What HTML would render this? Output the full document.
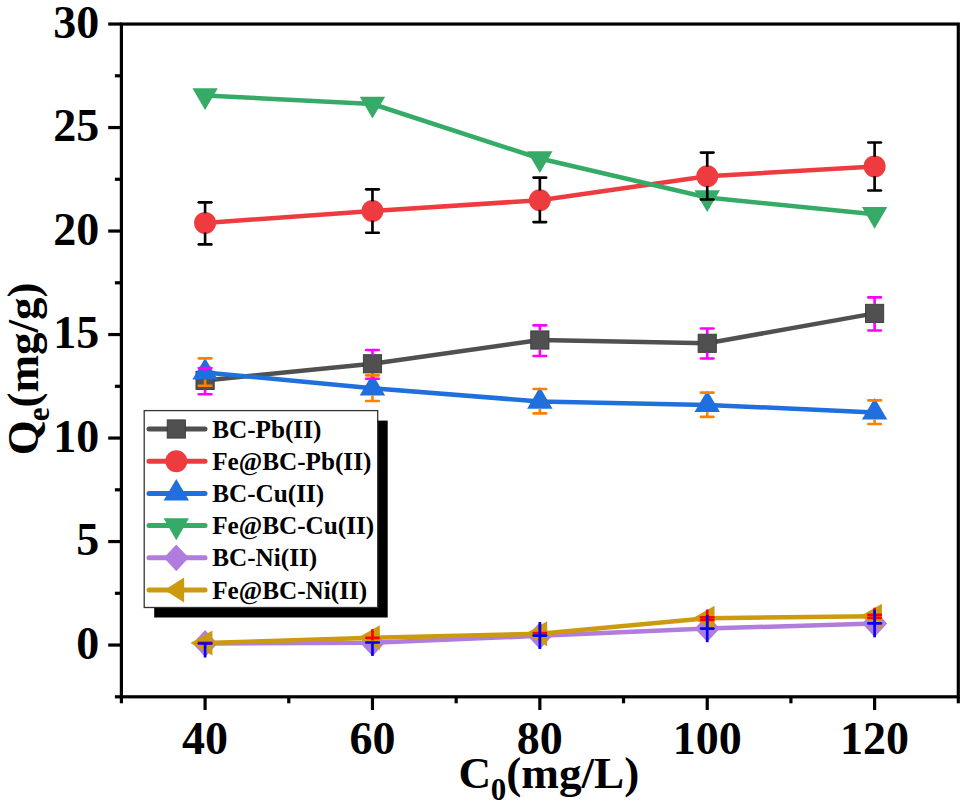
<!DOCTYPE html><html><head><meta charset="utf-8"><style>html,body{margin:0;padding:0;background:#fff;}svg{display:block;}text{font-family:"Liberation Serif", serif;font-weight:bold;fill:#000;}</style></head><body>
<svg width="968" height="809" viewBox="0 0 968 809">
<g stroke="#000" stroke-width="3.2" fill="none" stroke-linecap="butt">
<rect x="121.40" y="24.05" width="836.90" height="672.75"/>
<line x1="108.20" y1="645.05" x2="121.40" y2="645.05"/>
<line x1="108.20" y1="541.55" x2="121.40" y2="541.55"/>
<line x1="108.20" y1="438.05" x2="121.40" y2="438.05"/>
<line x1="108.20" y1="334.55" x2="121.40" y2="334.55"/>
<line x1="108.20" y1="231.05" x2="121.40" y2="231.05"/>
<line x1="108.20" y1="127.55" x2="121.40" y2="127.55"/>
<line x1="108.20" y1="24.05" x2="121.40" y2="24.05"/>
<line x1="114.90" y1="696.80" x2="121.40" y2="696.80"/>
<line x1="114.90" y1="593.30" x2="121.40" y2="593.30"/>
<line x1="114.90" y1="489.80" x2="121.40" y2="489.80"/>
<line x1="114.90" y1="386.30" x2="121.40" y2="386.30"/>
<line x1="114.90" y1="282.80" x2="121.40" y2="282.80"/>
<line x1="114.90" y1="179.30" x2="121.40" y2="179.30"/>
<line x1="114.90" y1="75.80" x2="121.40" y2="75.80"/>
<line x1="205.09" y1="696.80" x2="205.09" y2="710.00"/>
<line x1="372.47" y1="696.80" x2="372.47" y2="710.00"/>
<line x1="539.85" y1="696.80" x2="539.85" y2="710.00"/>
<line x1="707.23" y1="696.80" x2="707.23" y2="710.00"/>
<line x1="874.61" y1="696.80" x2="874.61" y2="710.00"/>
<line x1="121.40" y1="696.80" x2="121.40" y2="703.30"/>
<line x1="288.78" y1="696.80" x2="288.78" y2="703.30"/>
<line x1="456.16" y1="696.80" x2="456.16" y2="703.30"/>
<line x1="623.54" y1="696.80" x2="623.54" y2="703.30"/>
<line x1="790.92" y1="696.80" x2="790.92" y2="703.30"/>
<line x1="958.30" y1="696.80" x2="958.30" y2="703.30"/>
</g>
<text x="99.3" y="658.65" font-size="46" text-anchor="end">0</text>
<text x="99.3" y="555.15" font-size="46" text-anchor="end">5</text>
<text x="99.3" y="451.65" font-size="46" text-anchor="end">10</text>
<text x="99.3" y="348.15" font-size="46" text-anchor="end">15</text>
<text x="99.3" y="244.65" font-size="46" text-anchor="end">20</text>
<text x="99.3" y="141.15" font-size="46" text-anchor="end">25</text>
<text x="99.3" y="37.65" font-size="46" text-anchor="end">30</text>
<text x="205.09" y="753.5" font-size="46" text-anchor="middle">40</text>
<text x="372.47" y="753.5" font-size="46" text-anchor="middle">60</text>
<text x="539.85" y="753.5" font-size="46" text-anchor="middle">80</text>
<text x="707.23" y="753.5" font-size="46" text-anchor="middle">100</text>
<text x="874.61" y="753.5" font-size="46" text-anchor="middle">120</text>
<text x="458.6" y="788" font-size="45.2">C<tspan font-size="31" dx="-0.5" dy="11.5">0</tspan><tspan dy="-11.5">(mg/L)</tspan></text>
<text transform="translate(37.8,455.3) rotate(-90)" font-size="45">Q<tspan font-size="31" dx="-1" dy="11.5">e</tspan><tspan dy="-11.5">(mg/g)</tspan></text>
<polyline points="205.09,380.40 372.47,363.80 539.85,340.00 707.23,343.30 874.61,313.40" fill="none" stroke="#505050" stroke-width="4.5" stroke-linejoin="round"/>
<rect x="195.99" y="371.30" width="18.2" height="18.2" fill="#505050" stroke="#3a3a3a" stroke-width="0.9"/>
<rect x="363.37" y="354.70" width="18.2" height="18.2" fill="#505050" stroke="#3a3a3a" stroke-width="0.9"/>
<rect x="530.75" y="330.90" width="18.2" height="18.2" fill="#505050" stroke="#3a3a3a" stroke-width="0.9"/>
<rect x="698.13" y="334.20" width="18.2" height="18.2" fill="#505050" stroke="#3a3a3a" stroke-width="0.9"/>
<rect x="865.51" y="304.30" width="18.2" height="18.2" fill="#505050" stroke="#3a3a3a" stroke-width="0.9"/>
<polyline points="205.09,222.90 372.47,211.00 539.85,200.20 707.23,176.30 874.61,166.40" fill="none" stroke="#ee3b3f" stroke-width="4.5" stroke-linejoin="round"/>
<circle cx="205.09" cy="222.90" r="11" fill="#ee3b3f"/>
<circle cx="372.47" cy="211.00" r="11" fill="#ee3b3f"/>
<circle cx="539.85" cy="200.20" r="11" fill="#ee3b3f"/>
<circle cx="707.23" cy="176.30" r="11" fill="#ee3b3f"/>
<circle cx="874.61" cy="166.40" r="11" fill="#ee3b3f"/>
<polyline points="205.09,372.40 372.47,388.20 539.85,401.50 707.23,404.90 874.61,412.40" fill="none" stroke="#1f6fdc" stroke-width="4.5" stroke-linejoin="round"/>
<polygon points="192.39,379.60 217.79,379.60 205.09,358.00" fill="#1f6fdc"/>
<polygon points="359.77,395.40 385.17,395.40 372.47,373.80" fill="#1f6fdc"/>
<polygon points="527.15,408.70 552.55,408.70 539.85,387.10" fill="#1f6fdc"/>
<polygon points="694.53,412.10 719.93,412.10 707.23,390.50" fill="#1f6fdc"/>
<polygon points="861.91,419.60 887.31,419.60 874.61,398.00" fill="#1f6fdc"/>
<polyline points="205.09,95.50 372.47,104.00 539.85,158.50 707.23,197.50 874.61,214.30" fill="none" stroke="#35ab67" stroke-width="4.5" stroke-linejoin="round"/>
<polygon points="192.39,88.23 217.79,88.23 205.09,110.03" fill="#35ab67"/>
<polygon points="359.77,96.73 385.17,96.73 372.47,118.53" fill="#35ab67"/>
<polygon points="527.15,151.23 552.55,151.23 539.85,173.03" fill="#35ab67"/>
<polygon points="694.53,190.23 719.93,190.23 707.23,212.03" fill="#35ab67"/>
<polygon points="861.91,207.03 887.31,207.03 874.61,228.83" fill="#35ab67"/>
<polyline points="205.09,643.50 372.47,642.80 539.85,635.80 707.23,628.60 874.61,623.40" fill="none" stroke="#b07ddf" stroke-width="4.5" stroke-linejoin="round"/>
<polygon points="205.09,630.00 217.59,643.50 205.09,657.00 192.59,643.50" fill="#b07ddf"/>
<polygon points="372.47,629.30 384.97,642.80 372.47,656.30 359.97,642.80" fill="#b07ddf"/>
<polygon points="539.85,622.30 552.35,635.80 539.85,649.30 527.35,635.80" fill="#b07ddf"/>
<polygon points="707.23,615.10 719.73,628.60 707.23,642.10 694.73,628.60" fill="#b07ddf"/>
<polygon points="874.61,609.90 887.11,623.40 874.61,636.90 862.11,623.40" fill="#b07ddf"/>
<polyline points="205.09,643.10 372.47,637.70 539.85,633.80 707.23,618.30 874.61,616.20" fill="none" stroke="#cc9a0e" stroke-width="4.5" stroke-linejoin="round"/>
<polygon points="212.42,630.60 212.42,655.60 190.42,643.10" fill="#cc9a0e"/>
<polygon points="379.80,625.20 379.80,650.20 357.80,637.70" fill="#cc9a0e"/>
<polygon points="547.18,621.30 547.18,646.30 525.18,633.80" fill="#cc9a0e"/>
<polygon points="714.56,605.80 714.56,630.80 692.56,618.30" fill="#cc9a0e"/>
<polygon points="881.94,603.70 881.94,628.70 859.94,616.20" fill="#cc9a0e"/>
<line x1="205.09" y1="368.00" x2="205.09" y2="371.15" stroke="#ff00ff" stroke-width="2.65" stroke-linecap="butt"/><line x1="205.09" y1="389.65" x2="205.09" y2="394.20" stroke="#ff00ff" stroke-width="2.65" stroke-linecap="butt"/><line x1="198.81" y1="368.00" x2="211.37" y2="368.00" stroke="#ff00ff" stroke-width="2.65" stroke-linecap="round"/><line x1="198.81" y1="394.20" x2="211.37" y2="394.20" stroke="#ff00ff" stroke-width="2.65" stroke-linecap="round"/>
<line x1="372.47" y1="350.00" x2="372.47" y2="354.55" stroke="#ff00ff" stroke-width="2.65" stroke-linecap="butt"/><line x1="372.47" y1="373.05" x2="372.47" y2="378.70" stroke="#ff00ff" stroke-width="2.65" stroke-linecap="butt"/><line x1="366.19" y1="350.00" x2="378.75" y2="350.00" stroke="#ff00ff" stroke-width="2.65" stroke-linecap="round"/><line x1="366.19" y1="378.70" x2="378.75" y2="378.70" stroke="#ff00ff" stroke-width="2.65" stroke-linecap="round"/>
<line x1="539.85" y1="325.30" x2="539.85" y2="330.75" stroke="#ff00ff" stroke-width="2.65" stroke-linecap="butt"/><line x1="539.85" y1="349.25" x2="539.85" y2="356.00" stroke="#ff00ff" stroke-width="2.65" stroke-linecap="butt"/><line x1="533.58" y1="325.30" x2="546.12" y2="325.30" stroke="#ff00ff" stroke-width="2.65" stroke-linecap="round"/><line x1="533.58" y1="356.00" x2="546.12" y2="356.00" stroke="#ff00ff" stroke-width="2.65" stroke-linecap="round"/>
<line x1="707.23" y1="328.50" x2="707.23" y2="334.05" stroke="#ff00ff" stroke-width="2.65" stroke-linecap="butt"/><line x1="707.23" y1="352.55" x2="707.23" y2="358.50" stroke="#ff00ff" stroke-width="2.65" stroke-linecap="butt"/><line x1="700.95" y1="328.50" x2="713.50" y2="328.50" stroke="#ff00ff" stroke-width="2.65" stroke-linecap="round"/><line x1="700.95" y1="358.50" x2="713.50" y2="358.50" stroke="#ff00ff" stroke-width="2.65" stroke-linecap="round"/>
<line x1="874.61" y1="297.40" x2="874.61" y2="304.15" stroke="#ff00ff" stroke-width="2.65" stroke-linecap="butt"/><line x1="874.61" y1="322.65" x2="874.61" y2="330.50" stroke="#ff00ff" stroke-width="2.65" stroke-linecap="butt"/><line x1="868.34" y1="297.40" x2="880.88" y2="297.40" stroke="#ff00ff" stroke-width="2.65" stroke-linecap="round"/><line x1="868.34" y1="330.50" x2="880.88" y2="330.50" stroke="#ff00ff" stroke-width="2.65" stroke-linecap="round"/>
<line x1="205.09" y1="202.30" x2="205.09" y2="213.30" stroke="#000000" stroke-width="2.65" stroke-linecap="butt"/><line x1="205.09" y1="232.50" x2="205.09" y2="244.40" stroke="#000000" stroke-width="2.65" stroke-linecap="butt"/><line x1="198.81" y1="202.30" x2="211.37" y2="202.30" stroke="#000000" stroke-width="2.65" stroke-linecap="round"/><line x1="198.81" y1="244.40" x2="211.37" y2="244.40" stroke="#000000" stroke-width="2.65" stroke-linecap="round"/>
<line x1="372.47" y1="189.30" x2="372.47" y2="201.40" stroke="#000000" stroke-width="2.65" stroke-linecap="butt"/><line x1="372.47" y1="220.60" x2="372.47" y2="232.70" stroke="#000000" stroke-width="2.65" stroke-linecap="butt"/><line x1="366.19" y1="189.30" x2="378.75" y2="189.30" stroke="#000000" stroke-width="2.65" stroke-linecap="round"/><line x1="366.19" y1="232.70" x2="378.75" y2="232.70" stroke="#000000" stroke-width="2.65" stroke-linecap="round"/>
<line x1="539.85" y1="177.60" x2="539.85" y2="190.60" stroke="#000000" stroke-width="2.65" stroke-linecap="butt"/><line x1="539.85" y1="209.80" x2="539.85" y2="222.10" stroke="#000000" stroke-width="2.65" stroke-linecap="butt"/><line x1="533.58" y1="177.60" x2="546.12" y2="177.60" stroke="#000000" stroke-width="2.65" stroke-linecap="round"/><line x1="533.58" y1="222.10" x2="546.12" y2="222.10" stroke="#000000" stroke-width="2.65" stroke-linecap="round"/>
<line x1="707.23" y1="152.60" x2="707.23" y2="166.70" stroke="#000000" stroke-width="2.65" stroke-linecap="butt"/><line x1="707.23" y1="185.90" x2="707.23" y2="199.50" stroke="#000000" stroke-width="2.65" stroke-linecap="butt"/><line x1="700.95" y1="152.60" x2="713.50" y2="152.60" stroke="#000000" stroke-width="2.65" stroke-linecap="round"/><line x1="700.95" y1="199.50" x2="713.50" y2="199.50" stroke="#000000" stroke-width="2.65" stroke-linecap="round"/>
<line x1="874.61" y1="142.50" x2="874.61" y2="156.80" stroke="#000000" stroke-width="2.65" stroke-linecap="butt"/><line x1="874.61" y1="176.00" x2="874.61" y2="190.50" stroke="#000000" stroke-width="2.65" stroke-linecap="butt"/><line x1="868.34" y1="142.50" x2="880.88" y2="142.50" stroke="#000000" stroke-width="2.65" stroke-linecap="round"/><line x1="868.34" y1="190.50" x2="880.88" y2="190.50" stroke="#000000" stroke-width="2.65" stroke-linecap="round"/>
<line x1="205.09" y1="379.60" x2="205.09" y2="385.70" stroke="#ff7f00" stroke-width="2.65" stroke-linecap="butt"/><line x1="198.81" y1="358.30" x2="211.37" y2="358.30" stroke="#ff7f00" stroke-width="2.65" stroke-linecap="round"/><line x1="198.81" y1="385.70" x2="211.37" y2="385.70" stroke="#ff7f00" stroke-width="2.65" stroke-linecap="round"/>
<line x1="372.47" y1="395.40" x2="372.47" y2="401.00" stroke="#ff7f00" stroke-width="2.65" stroke-linecap="butt"/><line x1="366.19" y1="375.40" x2="378.75" y2="375.40" stroke="#ff7f00" stroke-width="2.65" stroke-linecap="round"/><line x1="366.19" y1="401.00" x2="378.75" y2="401.00" stroke="#ff7f00" stroke-width="2.65" stroke-linecap="round"/>
<line x1="539.85" y1="408.70" x2="539.85" y2="413.40" stroke="#ff7f00" stroke-width="2.65" stroke-linecap="butt"/><line x1="533.58" y1="389.00" x2="546.12" y2="389.00" stroke="#ff7f00" stroke-width="2.65" stroke-linecap="round"/><line x1="533.58" y1="413.40" x2="546.12" y2="413.40" stroke="#ff7f00" stroke-width="2.65" stroke-linecap="round"/>
<line x1="707.23" y1="412.10" x2="707.23" y2="416.80" stroke="#ff7f00" stroke-width="2.65" stroke-linecap="butt"/><line x1="700.95" y1="392.60" x2="713.50" y2="392.60" stroke="#ff7f00" stroke-width="2.65" stroke-linecap="round"/><line x1="700.95" y1="416.80" x2="713.50" y2="416.80" stroke="#ff7f00" stroke-width="2.65" stroke-linecap="round"/>
<line x1="874.61" y1="419.60" x2="874.61" y2="424.00" stroke="#ff7f00" stroke-width="2.65" stroke-linecap="butt"/><line x1="868.34" y1="400.40" x2="880.88" y2="400.40" stroke="#ff7f00" stroke-width="2.65" stroke-linecap="round"/><line x1="868.34" y1="424.00" x2="880.88" y2="424.00" stroke="#ff7f00" stroke-width="2.65" stroke-linecap="round"/>
<line x1="198.89" y1="642.9" x2="211.29" y2="642.9" stroke="#ff0000" stroke-width="2.7" stroke-linecap="round"/>
<line x1="372.47" y1="629.2" x2="372.47" y2="640.5" stroke="#ff0000" stroke-width="2.7" stroke-linecap="butt"/>
<line x1="366.27" y1="637.8" x2="378.67" y2="637.8" stroke="#ff0000" stroke-width="2.7" stroke-linecap="round"/>
<line x1="539.85" y1="624.8" x2="539.85" y2="641.4" stroke="#ff0000" stroke-width="2.7" stroke-linecap="butt"/>
<line x1="533.65" y1="633.1" x2="546.05" y2="633.1" stroke="#ff0000" stroke-width="2.7" stroke-linecap="round"/>
<line x1="707.23" y1="609.5" x2="707.23" y2="627.0" stroke="#ff0000" stroke-width="2.7" stroke-linecap="butt"/>
<line x1="701.03" y1="617.3" x2="713.43" y2="617.3" stroke="#ff0000" stroke-width="2.7" stroke-linecap="round"/>
<line x1="701.03" y1="620.0" x2="713.43" y2="620.0" stroke="#ff0000" stroke-width="2.7" stroke-linecap="round"/>
<line x1="874.61" y1="607.7" x2="874.61" y2="624.5" stroke="#ff0000" stroke-width="2.7" stroke-linecap="butt"/>
<line x1="868.41" y1="614.9" x2="880.81" y2="614.9" stroke="#ff0000" stroke-width="2.7" stroke-linecap="round"/>
<line x1="868.41" y1="617.9" x2="880.81" y2="617.9" stroke="#ff0000" stroke-width="2.7" stroke-linecap="round"/>
<line x1="205.09" y1="643.5" x2="205.09" y2="657.5" stroke="#0000ff" stroke-width="2.7" stroke-linecap="butt"/>
<line x1="198.89" y1="643.5" x2="211.29" y2="643.5" stroke="#0000ff" stroke-width="2.7" stroke-linecap="round"/>
<line x1="372.47" y1="642.5" x2="372.47" y2="655.9" stroke="#0000ff" stroke-width="2.7" stroke-linecap="butt"/>
<line x1="366.27" y1="642.5" x2="378.67" y2="642.5" stroke="#0000ff" stroke-width="2.7" stroke-linecap="round"/>
<line x1="539.85" y1="622.0" x2="539.85" y2="649.0" stroke="#0000ff" stroke-width="2.7" stroke-linecap="butt"/>
<line x1="533.65" y1="635.6" x2="546.05" y2="635.6" stroke="#0000ff" stroke-width="2.7" stroke-linecap="round"/>
<line x1="707.23" y1="615.0" x2="707.23" y2="642.2" stroke="#0000ff" stroke-width="2.7" stroke-linecap="butt"/>
<line x1="701.03" y1="628.6" x2="713.43" y2="628.6" stroke="#0000ff" stroke-width="2.7" stroke-linecap="round"/>
<line x1="874.61" y1="609.8" x2="874.61" y2="637.3" stroke="#0000ff" stroke-width="2.7" stroke-linecap="butt"/>
<line x1="868.41" y1="623.4" x2="880.81" y2="623.4" stroke="#0000ff" stroke-width="2.7" stroke-linecap="round"/>
<rect x="154.2" y="420.6" width="233.5" height="196.9" fill="#000"/>
<rect x="144.2" y="410.6" width="233.5" height="196.9" fill="#fff" stroke="#333" stroke-width="1.3"/>
<line x1="149" y1="429.0" x2="205" y2="429.0" stroke="#505050" stroke-width="5" stroke-linecap="round"/>
<rect x="167.20" y="419.90" width="18.2" height="18.2" fill="#505050" stroke="#3a3a3a" stroke-width="0.9"/>
<text x="212.2" y="437.50" font-size="25.2">BC-Pb(II)</text>
<line x1="149" y1="461.2" x2="205" y2="461.2" stroke="#ee3b3f" stroke-width="5" stroke-linecap="round"/>
<circle cx="176.30" cy="461.20" r="11" fill="#ee3b3f"/>
<text x="212.2" y="469.70" font-size="25.2">Fe@BC-Pb(II)</text>
<line x1="149" y1="493.4" x2="205" y2="493.4" stroke="#1f6fdc" stroke-width="5" stroke-linecap="round"/>
<polygon points="163.60,500.60 189.00,500.60 176.30,479.00" fill="#1f6fdc"/>
<text x="212.2" y="501.90" font-size="25.2">BC-Cu(II)</text>
<line x1="149" y1="525.6" x2="205" y2="525.6" stroke="#35ab67" stroke-width="5" stroke-linecap="round"/>
<polygon points="163.60,518.33 189.00,518.33 176.30,540.13" fill="#35ab67"/>
<text x="212.2" y="534.10" font-size="25.2">Fe@BC-Cu(II)</text>
<line x1="149" y1="557.8" x2="205" y2="557.8" stroke="#b07ddf" stroke-width="5" stroke-linecap="round"/>
<polygon points="176.30,544.40 188.70,557.80 176.30,571.20 163.90,557.80" fill="#b07ddf"/>
<text x="212.2" y="566.30" font-size="25.2">BC-Ni(II)</text>
<line x1="149" y1="590.0" x2="205" y2="590.0" stroke="#cc9a0e" stroke-width="5" stroke-linecap="round"/>
<polygon points="184.10,577.50 184.10,602.50 164.60,590.00" fill="#cc9a0e"/>
<text x="212.2" y="598.50" font-size="25.2">Fe@BC-Ni(II)</text>
</svg></body></html>
